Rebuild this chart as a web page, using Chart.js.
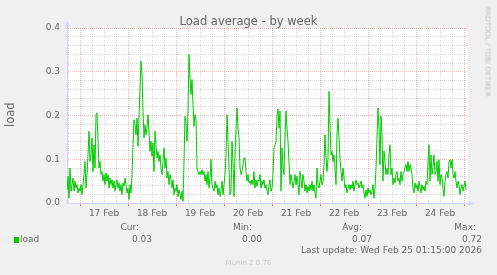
<!DOCTYPE html>
<html>
<head>
<meta charset="utf-8">
<script src="https://cdn.jsdelivr.net/npm/chart.js@4.4.1/dist/chart.umd.min.js"></script>
<style>
  html, body { margin: 0; padding: 0; background: #f0f0f0; }
  #graph { position: relative; width: 497px; height: 275px; overflow: hidden;
           font-family: "DejaVu Sans", sans-serif; color: #666; }
  #graph canvas { position: absolute; left: 0; top: 0; }
  .txt { position: absolute; white-space: nowrap; line-height: 1; }
</style>
</head>
<body>
<div id="graph">
  <canvas id="load-chart" width="497" height="275"></canvas>
  <div class="txt" id="title" style="left:0;top:16px;width:497px;text-align:center;font-size:11.5px;">Load average - by week</div>
  <div class="txt" id="unit" style="left:-9.5px;top:108.5px;width:40px;text-align:center;font-size:11.5px;transform:rotate(-90deg);">load</div>
  <div class="txt" id="watermark" style="left:426.5px;top:47.5px;width:120px;text-align:center;font-size:7px;color:#c4c4c4;transform:rotate(90deg);">RRDTOOL / TOBI OETIKER</div>
  <div id="legend"></div>
  <div class="txt" id="updated" style="right:15px;top:246.4px;font-size:9px;">Last update: Wed Feb 25 01:15:00 2026</div>
  <div class="txt" id="version" style="left:0;top:260px;width:497px;text-align:center;font-size:7px;color:#c8c8c8;">Munin 2.0.76</div>
</div>
<script>
const dayLabels = ["17 Feb", "18 Feb", "19 Feb", "20 Feb", "21 Feb", "22 Feb", "23 Feb", "24 Feb"];
const yTickLabels = ["0.0", "0.1", "0.2", "0.3", "0.4"];
const seriesName = "load";
const statNames = ["Cur:", "Min:", "Avg:", "Max:"];
const statValues = ["0.03", "0.00", "0.07", "0.72"];

// 30 min samples, hours counted from 17 Feb 00:00
const firstSampleHour = -6.5;
const sampleStepHours = 0.5;
const loadValues = [
  // 16 Feb evening -> 17 Feb
  0.030, 0.061, 0.011, 0.080, 0.027, 0.042, 0.057, 0.027, 0.050, 0.034,
  0.042, 0.023, 0.034, 0.027, 0.042, 0.019, 0.042, 0.065, 0.095, 0.034,
  0.065, 0.110, 0.164, 0.095, 0.110, 0.149, 0.072, 0.133, 0.080, 0.202,
  0.206, 0.141, 0.080, 0.095, 0.065, 0.072, 0.050, 0.065, 0.042, 0.069,
  0.050, 0.065, 0.034, 0.057, 0.042, 0.053, 0.034, 0.050, 0.027, 0.042,
  0.053, 0.034, 0.046, 0.027, 0.042, 0.019, 0.046, 0.038, 0.057, 0.042,
  // 18 Feb
  0.023, 0.034, 0.008, 0.042, 0.023, 0.065, 0.133, 0.190, 0.179, 0.156,
  0.194, 0.130, 0.198, 0.263, 0.324, 0.293, 0.210, 0.149, 0.179, 0.156,
  0.171, 0.202, 0.164, 0.118, 0.141, 0.107, 0.137, 0.072, 0.164, 0.133,
  0.103, 0.118, 0.095, 0.110, 0.080, 0.065, 0.095, 0.126, 0.080, 0.103,
  0.057, 0.072, 0.042, 0.065, 0.053, 0.034, 0.053, 0.019, 0.034, 0.027,
  0.042, 0.015, 0.030, 0.019, 0.008, 0.027, 0.004, 0.095, 0.198,
  // 19 Feb
  0.179, 0.141, 0.210, 0.339, 0.286, 0.248, 0.282, 0.225, 0.175, 0.202,
  0.190, 0.080, 0.072, 0.065, 0.072, 0.065, 0.076, 0.065, 0.072, 0.050,
  0.065, 0.042, 0.072, 0.034, 0.057, 0.100, 0.042, 0.034, 0.027, 0.050,
  0.034, 0.042, 0.019, 0.034, 0.015, 0.027, 0.050, 0.019, 0.042, 0.065,
  0.110, 0.202, 0.141, 0.080, 0.019, 0.027, 0.141, 0.095, 0.015, 0.110,
  0.171, 0.217, 0.171, 0.149, 0.080, 0.065, 0.072, 0.088, 0.103,
  // 20 Feb -> 21 Feb
  0.103, 0.072, 0.050, 0.065, 0.046, 0.050, 0.042, 0.053, 0.042, 0.072,
  0.034, 0.053, 0.038, 0.053, 0.050, 0.065, 0.034, 0.050, 0.042, 0.053,
  0.034, 0.042, 0.027, 0.019, 0.042, 0.053, 0.027, 0.034, 0.065, 0.126,
  0.133, 0.141, 0.198, 0.215, 0.171, 0.210, 0.027, 0.126, 0.080, 0.065,
  0.149, 0.210, 0.171, 0.141, 0.095, 0.042, 0.065, 0.050, 0.034, 0.050,
  0.065, 0.042, 0.061, 0.042, 0.019, 0.072, 0.053, 0.034, 0.065, 0.050,
  0.027,
  // 22 Feb
  0.042, 0.023, 0.038, 0.027, 0.042, 0.030, 0.050, 0.027, 0.042, 0.023,
  0.011, 0.080, 0.042, 0.034, 0.050, 0.065, 0.042, 0.050, 0.088, 0.156,
  0.103, 0.072, 0.103, 0.255, 0.179, 0.110, 0.118, 0.095, 0.110, 0.080,
  0.042, 0.156, 0.194, 0.149, 0.103, 0.072, 0.050, 0.080, 0.057, 0.034,
  0.042, 0.023, 0.034, 0.042, 0.030, 0.042, 0.034, 0.050, 0.027, 0.042,
  0.053, 0.042, 0.046, 0.034, 0.042, 0.050, 0.034, 0.042, 0.023, 0.011,
  // 23 Feb
  0.030, 0.015, 0.034, 0.023, 0.030, 0.019, 0.027, 0.042, 0.011, 0.034,
  0.080, 0.149, 0.217, 0.171, 0.088, 0.198, 0.156, 0.050, 0.118, 0.095,
  0.065, 0.080, 0.065, 0.110, 0.133, 0.065, 0.080, 0.042, 0.057, 0.046,
  0.065, 0.072, 0.050, 0.057, 0.042, 0.072, 0.050, 0.065, 0.072, 0.080,
  0.088, 0.072, 0.095, 0.072, 0.088, 0.080, 0.065, 0.034, 0.023, 0.046,
  0.034, 0.042, 0.027, 0.050, 0.034, 0.023, 0.042, 0.030, 0.038, 0.027,
  // 24 Feb -> 25 Feb
  0.050, 0.042, 0.095, 0.133, 0.050, 0.110, 0.065, 0.080, 0.110, 0.065,
  0.072, 0.095, 0.050, 0.099, 0.042, 0.065, 0.057, 0.034, 0.015, 0.050,
  0.065, 0.072, 0.057, 0.095, 0.099, 0.080, 0.099, 0.065, 0.057, 0.072,
  0.050, 0.034, 0.050, 0.042, 0.019, 0.034, 0.042, 0.027, 0.038, 0.050,
  0.030
];

const fontFamily = '"DejaVu Sans", sans-serif';
const fontColor = "#666";
const lineColor = "#00cc00";
const axisColor = "#cfd6f8";
const minorGrid = "rgba(143,143,143,0.33)";
const majorGrid = "rgba(224,80,80,0.38)";

// legend row under the graph
const legendEl = document.getElementById("legend");
legendEl.innerHTML =
  '<div style="position:absolute;left:14px;top:237px;width:5px;height:6px;background:' + lineColor + ';"></div>' +
  '<div class="txt" style="left:20px;top:234.7px;font-size:9px;">' + seriesName + '</div>';
const statRight = [358, 245, 135, 21];
const valueRight = [345, 235, 125, 15];
statNames.forEach((name, i) => {
  legendEl.innerHTML +=
    '<div class="txt" style="right:' + statRight[i] + 'px;top:223.1px;font-size:9px;">' + name + '</div>' +
    '<div class="txt" style="right:' + valueRight[i] + 'px;top:234.7px;font-size:9px;">' + statValues[i] + '</div>';
});

const points = loadValues.map((v, i) => ({ x: firstSampleHour + i * sampleStepHours, y: v }));

// grid every 6 hours, red at midnight
const gridHours = [];
for (let h = -6; h <= 192; h += 6) gridHours.push(h);
const gridLoads = [];
for (let k = 0; k <= 20; k++) gridLoads.push(Math.round(k * 2) / 100);

const muninFrame = {
  id: "muninFrame",
  beforeDraw(chart) {
    const { ctx, chartArea: a } = chart;
    ctx.save();
    ctx.fillStyle = "#fff";
    ctx.fillRect(a.left, a.top, a.right - a.left, a.bottom - a.top);
    ctx.restore();
  },
  afterDraw(chart) {
    const { ctx, chartArea: a } = chart;
    ctx.save();
    ctx.strokeStyle = axisColor;
    ctx.fillStyle = axisColor;
    ctx.lineWidth = 1;
    // y arrow
    ctx.beginPath();
    ctx.moveTo(a.left + 0.5, a.top);
    ctx.lineTo(a.left + 0.5, a.top - 4);
    ctx.stroke();
    ctx.beginPath();
    ctx.moveTo(a.left - 2, a.top - 1.5);
    ctx.lineTo(a.left + 3, a.top - 1.5);
    ctx.lineTo(a.left + 0.5, a.top - 7);
    ctx.closePath();
    ctx.fill();
    // x arrow
    ctx.beginPath();
    ctx.moveTo(a.right, a.bottom + 0.5);
    ctx.lineTo(a.right + 3, a.bottom + 0.5);
    ctx.stroke();
    ctx.beginPath();
    ctx.moveTo(a.right + 0.5, a.bottom - 2);
    ctx.lineTo(a.right + 0.5, a.bottom + 3);
    ctx.lineTo(a.right + 6, a.bottom + 0.5);
    ctx.closePath();
    ctx.fill();
    ctx.restore();
  }
};

new Chart(document.getElementById("load-chart"), {
  type: "line",
  data: {
    datasets: [{
      label: seriesName,
      data: points,
      borderColor: lineColor,
      borderWidth: 1,
      pointRadius: 0,
      tension: 0,
      fill: false
    }]
  },
  options: {
    responsive: false,
    animation: false,
    devicePixelRatio: 1,
    layout: { padding: { left: 0, right: 29, top: 28, bottom: 52 } },
    plugins: { legend: { display: false }, tooltip: { enabled: false } },
    scales: {
      x: {
        type: "linear",
        min: -6.5,
        max: 194,
        afterBuildTicks: (s) => { s.ticks = gridHours.map((v) => ({ value: v })); },
        afterFit: (s) => { s.height = 20; },
        grid: {
          color: (c) => (c.tick && c.tick.value % 24 === 0 ? majorGrid : minorGrid),
          drawTicks: true,
          tickLength: 3,
          tickColor: (c) => (c.tick && c.tick.value % 24 === 0 ? "rgba(224,80,80,0.7)" : "rgba(0,0,0,0)")
        },
        border: { color: axisColor, dash: [1, 1] },
        ticks: {
          autoSkip: false,
          maxRotation: 0,
          padding: 2,
          color: fontColor,
          font: { family: fontFamily, size: 9 },
          callback: (v) => (v % 24 === 12 ? dayLabels[(v - 12) / 24] : "")
        }
      },
      y: {
        min: 0,
        max: 0.4,
        afterBuildTicks: (s) => { s.ticks = gridLoads.map((v) => ({ value: v })); },
        afterFit: (s) => { s.width = 67; },
        grid: {
          color: (c) => (c.tick && Math.round(c.tick.value * 100) % 10 === 0 ? majorGrid : minorGrid),
          drawTicks: false
        },
        border: { color: axisColor, dash: [1, 1] },
        ticks: {
          autoSkip: false,
          padding: 7,
          color: fontColor,
          font: { family: fontFamily, size: 9 },
          callback: (v) => (Math.round(v * 100) % 10 === 0 ? yTickLabels[Math.round(v * 10)] : "")
        }
      }
    }
  },
  plugins: [muninFrame]
});
</script>
</body>
</html>
